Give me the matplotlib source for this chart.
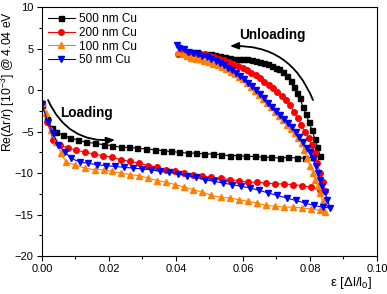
import numpy as np
import matplotlib
matplotlib.use("Agg")
import matplotlib.pyplot as plt
from matplotlib.ticker import MultipleLocator

plt.rcParams['font.family'] = ['Liberation Sans', 'DejaVu Sans']
plt.rcParams['mathtext.fontset'] = 'custom'
plt.rcParams['mathtext.rm'] = 'Liberation Sans'
plt.rcParams['mathtext.it'] = 'Liberation Sans:italic'

# %% data (strain, Re(dr/r) in 1e-3)
labels = ["500 nm Cu", "200 nm Cu", "100 nm Cu", "50 nm Cu"]

black_load_x = [0.000, 0.0015, 0.003, 0.0042, 0.0063, 0.0084, 0.0107, 0.0131, 0.0158, 0.0185,
                0.021, 0.0236, 0.026, 0.0285, 0.031, 0.0337, 0.036, 0.0385, 0.041, 0.0435,
                0.046, 0.0485, 0.051, 0.0535, 0.056, 0.0585, 0.061, 0.0635, 0.066, 0.0685,
                0.071, 0.0735, 0.076, 0.0785, 0.081, 0.0830]
black_load_y = [-1.8, -3.5, -4.6, -5.1, -5.4, -5.8, -6.0, -6.3, -6.4, -6.6,
                -6.7, -6.9, -6.9, -7.0, -7.1, -7.2, -7.3, -7.4, -7.5, -7.6,
                -7.6, -7.7, -7.7, -7.8, -7.9, -7.9, -8.0, -8.0, -8.1, -8.1,
                -8.2, -8.1, -8.2, -8.2, -8.1, -7.9]
black_unload_x = [0.0822, 0.0815, 0.0806, 0.0797, 0.0788, 0.0779, 0.0770, 0.0762, 0.0752, 0.0742,
                  0.0731, 0.0720, 0.0709, 0.0698, 0.0686, 0.0674, 0.0662, 0.0650, 0.0638, 0.0626,
                  0.0613, 0.0600, 0.0587, 0.0573, 0.0560, 0.0546, 0.0532, 0.0518, 0.0504, 0.0490,
                  0.0476, 0.0463]
black_unload_y = [-6.8, -5.9, -4.8, -3.9, -2.9, -2.0, -1.0, -0.3, 0.4, 1.1,
                  1.7, 2.2, 2.5, 2.7, 2.9, 3.2, 3.3, 3.4, 3.5, 3.6,
                  3.7, 3.7, 3.8, 3.8, 3.9, 4.0, 4.1, 4.2, 4.3, 4.3,
                  4.4, 4.6]

red_load_x = [0.000, 0.0015, 0.0033, 0.0054, 0.0078, 0.0101, 0.0128, 0.0155, 0.0182, 0.021,
              0.0236, 0.0263, 0.029, 0.0317, 0.0344, 0.0371, 0.0398, 0.0425, 0.0452, 0.0479,
              0.0506, 0.0533, 0.056, 0.0587, 0.0614, 0.0641, 0.0668, 0.0695, 0.0722, 0.0749,
              0.0776, 0.0803, 0.0830, 0.0845]
red_load_y = [-1.6, -3.8, -6.0, -6.6, -7.0, -7.2, -7.5, -7.7, -7.9, -8.1,
              -8.4, -8.6, -8.8, -9.1, -9.3, -9.6, -9.8, -10.0, -10.2, -10.4,
              -10.5, -10.6, -10.8, -10.9, -11.1, -11.1, -11.2, -11.3, -11.3, -11.4,
              -11.5, -11.7, -12.0, -12.2]
red_unload_x = [0.0838, 0.0830, 0.0822, 0.0814, 0.0806, 0.0796, 0.0785, 0.0774, 0.0763, 0.0752,
                0.0741, 0.0728, 0.0716, 0.0703, 0.0690, 0.0678, 0.0664, 0.0651, 0.0638, 0.0625,
                0.0612, 0.0599, 0.0585, 0.0571, 0.0557, 0.0543, 0.0529, 0.0515, 0.0501, 0.0487,
                0.0473, 0.0459, 0.0445, 0.0431, 0.0417, 0.0405]
red_unload_y = [-11.1, -10.0, -8.8, -7.6, -6.6, -5.8, -5.0, -4.2, -3.4, -2.6,
                -1.8, -1.2, -0.7, -0.2, 0.2, 0.6, 1.0, 1.45, 1.8, 2.1,
                2.4, 2.7, 2.9, 3.1, 3.4, 3.6, 3.8, 4.0, 4.1, 4.3,
                4.4, 4.3, 4.6, 4.4, 4.7, 4.3]

orange_load_x = [0.000, 0.0012, 0.0027, 0.0042, 0.0057, 0.0072, 0.0099, 0.0128, 0.0158, 0.0185,
                 0.021, 0.0236, 0.0263, 0.029, 0.0317, 0.0344, 0.0371, 0.0398, 0.0425, 0.0452,
                 0.0479, 0.0506, 0.0533, 0.056, 0.0587, 0.0614, 0.0641, 0.0668, 0.0695, 0.0722,
                 0.0749, 0.0776, 0.0803, 0.0830, 0.0845]
orange_load_y = [-1.6, -2.8, -4.8, -6.3, -7.6, -8.7, -9.0, -9.4, -9.6, -9.6,
                 -9.8, -10.0, -10.2, -10.3, -10.6, -10.9, -11.1, -11.4, -11.7, -12.0,
                 -12.3, -12.7, -12.9, -13.0, -13.2, -13.4, -13.6, -13.9, -14.0, -14.1,
                 -14.1, -14.2, -14.3, -14.5, -14.7]
orange_unload_x = [0.0838, 0.0830, 0.0823, 0.0816, 0.0809, 0.0800, 0.0791, 0.0783, 0.0776, 0.0765,
                   0.0754, 0.0743, 0.0731, 0.0719, 0.0707, 0.0695, 0.0683, 0.0671, 0.0659, 0.0647,
                   0.0635, 0.0623, 0.0611, 0.0599, 0.0587, 0.0575, 0.0563, 0.0550, 0.0537, 0.0524,
                   0.0511, 0.0498, 0.0485, 0.0472, 0.0459, 0.0446, 0.0433, 0.0420, 0.0407]
orange_unload_y = [-13.4, -12.4, -11.6, -10.8, -10.0, -9.1, -8.2, -7.2, -6.4, -5.8,
                   -5.2, -4.7, -4.2, -3.6, -3.1, -2.6, -2.1, -1.6, -1.1, -0.6,
                   -0.1, 0.4, 0.8, 1.3, 1.6, 1.9, 2.2, 2.5, 2.8, 3.0,
                   3.2, 3.4, 3.5, 3.7, 3.8, 3.9, 4.1, 4.3, 4.6]

blue_load_x = [0.000, 0.0018, 0.0033, 0.0048, 0.0069, 0.0087, 0.0113, 0.0137, 0.0163, 0.019,
               0.0217, 0.0244, 0.0271, 0.0298, 0.0325, 0.0352, 0.0379, 0.0406, 0.0433, 0.046,
               0.0487, 0.0514, 0.0541, 0.0568, 0.0595, 0.0622, 0.0649, 0.0676, 0.0703, 0.0730,
               0.0757, 0.0784, 0.0811, 0.0838, 0.0860]
blue_load_y = [-1.7, -3.9, -5.2, -6.6, -7.5, -8.2, -8.7, -8.8, -9.0, -9.1,
               -9.2, -9.3, -9.4, -9.5, -9.6, -9.8, -9.9, -10.1, -10.3, -10.5,
               -10.8, -11.0, -11.2, -11.4, -11.6, -11.8, -12.1, -12.4, -12.7, -13.0,
               -13.3, -13.6, -13.9, -14.1, -14.2]
blue_unload_x = [0.0852, 0.0845, 0.0837, 0.0830, 0.0824, 0.0818, 0.0810, 0.0800, 0.0790, 0.0779,
                 0.0768, 0.0757, 0.0746, 0.0735, 0.0723, 0.0712, 0.0700, 0.0688, 0.0676, 0.0664,
                 0.0652, 0.0640, 0.0628, 0.0616, 0.0604, 0.0592, 0.0580, 0.0568, 0.0556, 0.0544,
                 0.0532, 0.0519, 0.0506, 0.0493, 0.0479, 0.0465, 0.0451, 0.0437, 0.0423, 0.0410,
                 0.0403]
blue_unload_y = [-13.2, -12.3, -11.5, -10.8, -10.0, -9.2, -8.2, -7.5, -7.0, -6.3,
                 -5.7, -5.1, -4.5, -4.0, -3.5, -3.0, -2.5, -2.0, -1.5, -1.0,
                 -0.5, 0.0, 0.5, 0.9, 1.3, 1.7, 2.1, 2.4, 2.7, 3.0,
                 3.3, 3.5, 3.8, 4.0, 4.1, 4.3, 4.5, 4.6, 4.9, 5.1,
                 5.4]

# %% plot
fig = plt.figure(figsize=(3.87, 2.94), dpi=100)
ax = fig.add_axes([0.1085, 0.129, 0.8655, 0.847])

series = [
    (black_load_x + black_unload_x, black_load_y + black_unload_y, '#000000', 's', 3.6),
    (red_load_x + red_unload_x, red_load_y + red_unload_y, '#FF0000', 'o', 4.0),
    (orange_load_x + orange_unload_x, orange_load_y + orange_unload_y, '#FF8000', '^', 4.0),
    (blue_load_x + blue_unload_x, blue_load_y + blue_unload_y, '#0000FF', 'v', 4.0),
]
for (x, y, c, m, ms), lab in zip(series, labels):
    ax.plot(x, y, color=c, marker=m, ms=ms, lw=0.8, mec=c, mfc=c, label=lab)

ax.set_xlim(0, 0.10)
ax.set_ylim(-20, 10)
ax.xaxis.set_major_locator(MultipleLocator(0.02))
ax.xaxis.set_minor_locator(MultipleLocator(0.01))
ax.yaxis.set_major_locator(MultipleLocator(5))
ax.yaxis.set_minor_locator(MultipleLocator(2.5))
ax.xaxis.set_major_formatter(plt.FormatStrFormatter('%.2f'))
ax.tick_params(which='both', direction='out', labelsize=8, width=0.8, top=False, right=False)
ax.tick_params(which='major', length=3.5, pad=2.5)
ax.tick_params(which='minor', length=2)
for s in ax.spines.values():
    s.set_linewidth(0.8)

ax.set_ylabel(r'Re($\Delta$r/r) [10$^{-3}$] @ 4.04 eV', fontsize=8.8)
ax.yaxis.set_label_coords(-0.075, 0.70)
ax.set_xlabel(r'ε [$\Delta$l/l$_0$]', fontsize=9.5, ha='right')
ax.xaxis.set_label_coords(0.985, -0.075)

ax.legend(loc='upper left', frameon=False, fontsize=8.5, handlelength=2.3,
          labelspacing=0.15, borderaxespad=0.1, handletextpad=0.35)

# annotations
ax.text(0.0134, -2.8, 'Loading', fontsize=9.8, fontweight='bold', ha='center', va='center')
ax.annotate('', xy=(0.0218, -6.0), xytext=(0.0018, -1.2),
            arrowprops=dict(arrowstyle='-|>,head_length=0.5,head_width=0.2', color='black',
                            lw=1.3, connectionstyle='arc3,rad=0.35', shrinkA=0, shrinkB=0))
ax.text(0.0687, 6.6, 'Unloading', fontsize=9.8, fontweight='bold', ha='center', va='center')
ax.annotate('', xy=(0.0561, 5.3), xytext=(0.0809, -1.2),
            arrowprops=dict(arrowstyle='-|>,head_length=0.5,head_width=0.2', color='black',
                            lw=1.3, connectionstyle='arc3,rad=0.35', shrinkA=0, shrinkB=0))

fig.savefig('out.png', dpi=100)
